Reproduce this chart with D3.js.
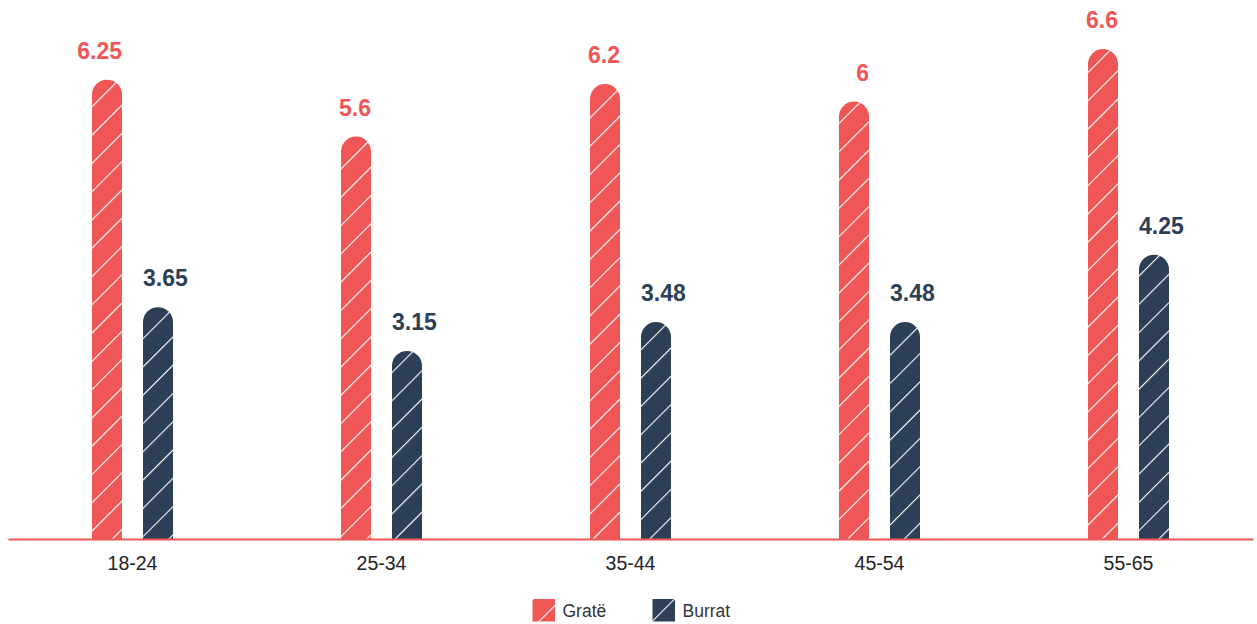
<!DOCTYPE html>
<html>
<head>
<meta charset="utf-8">
<script src="https://cdn.jsdelivr.net/npm/d3@7"></script>
<style>
  html, body { margin: 0; padding: 0; background: #fff; }
  svg { display: block; }
  text { font-family: "Liberation Sans", Arial, Helvetica, sans-serif; }
</style>
</head>
<body>
<svg id="chart" width="1257" height="624"></svg>
<script>
// ---- data ----
const categories = ["18-24", "25-34", "35-44", "45-54", "55-65"];
const seriesNames = ["Gratë", "Burrat"];
const grateValues = [6.25, 5.6, 6.2, 6, 6.6];
const burratValues = [3.65, 3.15, 3.48, 3.48, 4.25];
const seriesColors = ["#F05656", "#2C3F56"];

const axisY = 539;
const svg = d3.select("#chart");

const defs = svg.append("defs");
seriesColors.forEach((c, i) => {
  const p = defs.append("pattern")
    .attr("id", "hatch" + i)
    .attr("patternUnits", "userSpaceOnUse")
    .attr("width", 20).attr("height", 20)
    .attr("patternTransform", "rotate(45)");
  p.append("rect").attr("width", 20).attr("height", 20).attr("fill", c);
  p.append("line").attr("x1", 0).attr("y1", 0).attr("x2", 0).attr("y2", 20)
    .attr("stroke", "#fff").attr("stroke-width", 2.2);
});

const x0 = d3.scaleBand().domain(categories).range([8, 1253]).padding(0);
const bw0 = x0.bandwidth();
const x1 = d3.scaleBand().domain(seriesNames)
  .range([bw0 / 2 - 40.5, bw0 / 2 + 40.5])
  .paddingInner(21 / 51).paddingOuter(0);
const y = d3.scaleLinear().domain([1, 7]).range([axisY, 14]);

const data = [];
categories.forEach((c, i) => {
  data.push({ cat: c, s: 0, v: grateValues[i] });
  data.push({ cat: c, s: 1, v: burratValues[i] });
});

const bw = x1.bandwidth();
const r = bw / 2;

function barPath(d) {
  const xl = x0(d.cat) + x1(seriesNames[d.s]);
  const top = y(d.v);
  const bottom = axisY;
  return `M${xl},${bottom} L${xl},${top + r} A${r},${r} 0 0 1 ${xl + bw},${top + r} L${xl + bw},${bottom} Z`;
}

svg.append("g").selectAll("path")
  .data(data).join("path")
  .attr("d", barPath)
  .attr("fill", d => `url(#hatch${d.s})`);

// value labels
svg.append("g").selectAll("text")
  .data(data).join("text")
  .attr("x", d => {
    const xl = x0(d.cat) + x1(seriesNames[d.s]);
    return d.s === 0 ? xl + bw : xl;
  })
  .attr("y", d => y(d.v) - 21)
  .attr("text-anchor", d => d.s === 0 ? "end" : "start")
  .attr("font-size", 23)
  .attr("font-weight", "bold")
  .attr("fill", d => seriesColors[d.s])
  .text(d => d.v);

// axis
const axis = d3.axisBottom(x0).tickSize(0).tickPadding(17);
const gAxis = svg.append("g").attr("transform", `translate(0,${axisY})`).call(axis);
gAxis.select(".domain").attr("stroke", "#F05656").attr("stroke-width", 2);
gAxis.selectAll(".tick text")
  .attr("font-size", 19.5)
  .attr("font-family", "'Liberation Sans', Arial, sans-serif")
  .attr("fill", "#222");

// legend
const legendX = [532.5, 652.5];
const lg = svg.append("g");
seriesNames.forEach((n, i) => {
  lg.append("rect")
    .attr("x", legendX[i]).attr("y", 599)
    .attr("width", 22.5).attr("height", 22.5)
    .attr("fill", `url(#hatch${i})`);
  lg.append("text")
    .attr("x", legendX[i] + 30).attr("y", 617)
    .attr("font-size", 17.5)
    .attr("fill", "#333")
    .text(n);
});
</script>
</body>
</html>
